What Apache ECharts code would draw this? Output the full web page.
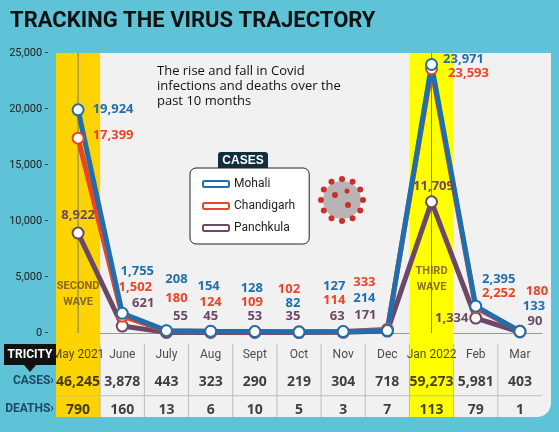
<!DOCTYPE html>
<html><head><meta charset="utf-8">
<script src="https://cdn.jsdelivr.net/npm/echarts@6/dist/echarts.min.js"></script>
<style>html,body{margin:0;padding:0;background:#5ec3d6}#c{width:559px;height:432px}</style>
</head><body><div id="c"></div>
<script>
const months = ['May 2021','June','July','Aug','Sept','Oct','Nov','Dec','Jan 2022','Feb','Mar'];
const mohali = [19924,1755,208,154,128,82,127,214,23971,2395,133];
const chandigarh = [17399,1502,180,124,109,102,114,333,23593,2252,180];
const panchkula = [8922,621,55,45,53,35,63,171,11709,1334,90];
const totalCases = ['46,245','3,878','443','323','290','219','304','718','59,273','5,981','403'];
const totalDeaths = ['790','160','13','6','10','5','3','7','113','79','1'];
const yTicks = [0,5000,10000,15000,20000,25000];

const off = {
  m:[[35,-1],[15,-42],[10,-51],[-2,-45],[-3,-43],[-6,-29],[-9,-45],[-23,-32],[32,-5],[23,-27],[14,-25]],
  c:[[35,-3],[13,-29],[10,-33],[0,-29],[-3,-29],[-10,-43],[-9,-31],[-23,-47],[37,5],[23,-14],[17,-40]],
  p:[[0,-18],[21,-23],[14,-16],[0,-16],[0,-16],[-6,-16],[-6,-16],[-22,-16],[2,-16],[-24,0],[15,-11]]
};
const F = 'Open Sans';
function mk(name, data, color, o){
  return {name, type:'line', data:data.map((v,i)=>({value:v, label:{offset:o[i]}})),
    lineStyle:{width:5,color}, itemStyle:{color:'#fff',borderColor:color,borderWidth:2},
    color, symbol:'circle', symbolSize:11, z:5,
    label:{show:true,position:'inside',color,fontFamily:F,fontWeight:'bold',fontSize:13,
      formatter:p=>p.value.toLocaleString('en-US')}};
}
const fmt = v=>v.toLocaleString('en-US');
const chart = echarts.init(document.getElementById('c'));
chart.setOption({
  animation:false,
  textStyle:{fontFamily:F},
  grid:{left:56,right:17,top:53,bottom:15,show:false},
  xAxis:{type:'category',data:months,boundaryGap:true,axisLine:{lineStyle:{color:'#999'}},
    axisTick:{alignWithLabel:true,length:8,lineStyle:{color:'#999'}},axisLabel:{show:false},splitLine:{show:false}},
  yAxis:{type:'value',min:-7500,max:25000,interval:2500,splitLine:{show:false},
    axisLine:{show:false},axisTick:{show:false},
    axisLabel:{color:'#222',fontSize:11,fontFamily:'Roboto',formatter:v=>yTicks.includes(v)?fmt(v)+' -':''}},
  legend:{orient:'vertical',left:190,top:168,width:100,backgroundColor:'#fff',borderColor:'#222',borderWidth:1,
    borderRadius:6,padding:[10,14,10,12],itemGap:10,itemWidth:26,itemHeight:6,icon:'roundRect',
    textStyle:{fontSize:12,color:'#222',fontFamily:'Roboto'},
    data:['Mohali','Chandigarh','Panchkula']},
  series:[
    {type:'custom',silent:true,z:1,data:months.map((m,i)=>i),
     renderItem:(p,api)=>{
       const i=api.value(0), w=api.size([1,0])[0];
       const x=api.coord([i,0])[0], top=api.coord([i,-1000])[1], bot=api.coord([i,-7500])[1], mid=api.coord([i,-5600])[1];
       const yt=api.coord([i,25000])[1];
       const ch=[];
       if(i===0||i===8){
         ch.push({type:'rect',shape:{x:x-w/2,y:yt,width:w,height:bot-yt},style:{fill:i===0?'#fdd400':'#ffff00'}});
         ch.push({type:'line',shape:{x1:x,y1:yt,x2:x,y2:api.coord([i,0])[1]},style:{stroke:'#777',lineWidth:1}});
       }
       if(i>0) ch.push({type:'line',shape:{x1:x-w/2,y1:top,x2:x-w/2,y2:bot},style:{stroke:'#bbb',lineWidth:1}});
       ch.push({type:'line',shape:{x1:x-w/2,y1:mid,x2:x+w/2,y2:mid},style:{stroke:'#bbb',lineWidth:1}});
       return {type:'group',children:ch};
     }},
    {type:'scatter',symbolSize:0,silent:true,z:6,
     data:months.map((m,i)=>[m,-1950,m]),
     label:{show:true,position:'inside',formatter:p=>p.data[2],fontSize:12,fontFamily:'Roboto',color:'#222'}},
    {type:'scatter',symbolSize:0,silent:true,z:6,
     data:months.map((m,i)=>[m,-4350,totalCases[i]]),
     label:{show:true,position:'inside',formatter:p=>p.data[2],fontSize:14,fontWeight:'bold',color:'#111'}},
    {type:'scatter',symbolSize:0,silent:true,z:6,
     data:months.map((m,i)=>[m,-6850,totalDeaths[i]]),
     label:{show:true,position:'inside',formatter:p=>p.data[2],fontSize:14,fontWeight:'bold',color:'#111'}},
    {type:'scatter',symbolSize:0,silent:true,z:6,
     data:[['May 2021',3500,'SECOND\nWAVE'],['Jan 2022',4800,'THIRD\nWAVE']],
     label:{show:true,position:'inside',formatter:p=>p.data[2],fontSize:11,lineHeight:16,fontWeight:'bold',
       fontFamily:'Roboto',color:'#6b4a30'}},
    mk('Panchkula',panchkula,'#6b4868',off.p),
    mk('Chandigarh',chandigarh,'#ea4429',off.c),
    mk('Mohali',mohali,'#1f6fae',off.m)
  ],
  graphic:[
    {type:'rect',z:-10,shape:{x:56,y:53,width:495,height:364,r:[0,0,14,0]},style:{fill:'#f1f1f1'}},
    {type:'text',left:10,top:10,style:{text:'TRACKING THE VIRUS TRAJECTORY',fontSize:22,fontWeight:'bold',
      fontFamily:'Roboto',fill:'#111'}},
    {type:'text',left:157,top:64,style:{text:'The rise and fall in Covid\ninfections and deaths over the\npast 10 months',
      fontSize:13,lineHeight:15,fill:'#111',fontFamily:F}},
    {type:'group',left:218,top:152,z:10,children:[
      {type:'rect',shape:{x:0,y:0,width:50,height:18,r:3},style:{fill:'#10303f'}},
      {type:'text',style:{text:'CASES',x:25,y:9,align:'center',verticalAlign:'middle',fill:'#fff',fontWeight:'bold',fontSize:12}}]},
    {type:'group',left:318,top:176,children:[
      {type:'circle',shape:{cx:24,cy:24,r:19},style:{fill:'#b9b3b5'}},
      ...[0,1,2,3,4,5,6,7,8,9,10,11].map(k=>({type:'circle',shape:{cx:24+21*Math.cos(k*0.5236),cy:24+21*Math.sin(k*0.5236),r:3},style:{fill:'#c9302a'}})),
      {type:'circle',shape:{cx:17,cy:19,r:3},style:{fill:'#c9302a'}},
      {type:'circle',shape:{cx:30,cy:29,r:3},style:{fill:'#c9302a'}},
      {type:'circle',shape:{cx:29,cy:15,r:2.5},style:{fill:'#c9302a'}}]},
    {type:'group',left:4,top:344,children:[
      {type:'rect',shape:{x:0,y:0,width:52,height:21},style:{fill:'#111'}},
      {type:'polygon',shape:{points:[[20,21],[32,21],[26,28]]},style:{fill:'#111'}},
      {type:'text',style:{text:'TRICITY',x:26,y:11,align:'center',verticalAlign:'middle',fill:'#fff',fontWeight:'bold',fontSize:12,fontFamily:'Roboto'}}]},
    {type:'text',right:505,top:375,style:{text:'CASES›',fontSize:12,fontWeight:'bold',fontFamily:'Roboto',fill:'#1d4a66',align:'right'}},
    {type:'text',right:505,top:403,style:{text:'DEATHS›',fontSize:12,fontWeight:'bold',fontFamily:'Roboto',fill:'#1d4a66',align:'right'}}
  ]
});
</script></body></html>
